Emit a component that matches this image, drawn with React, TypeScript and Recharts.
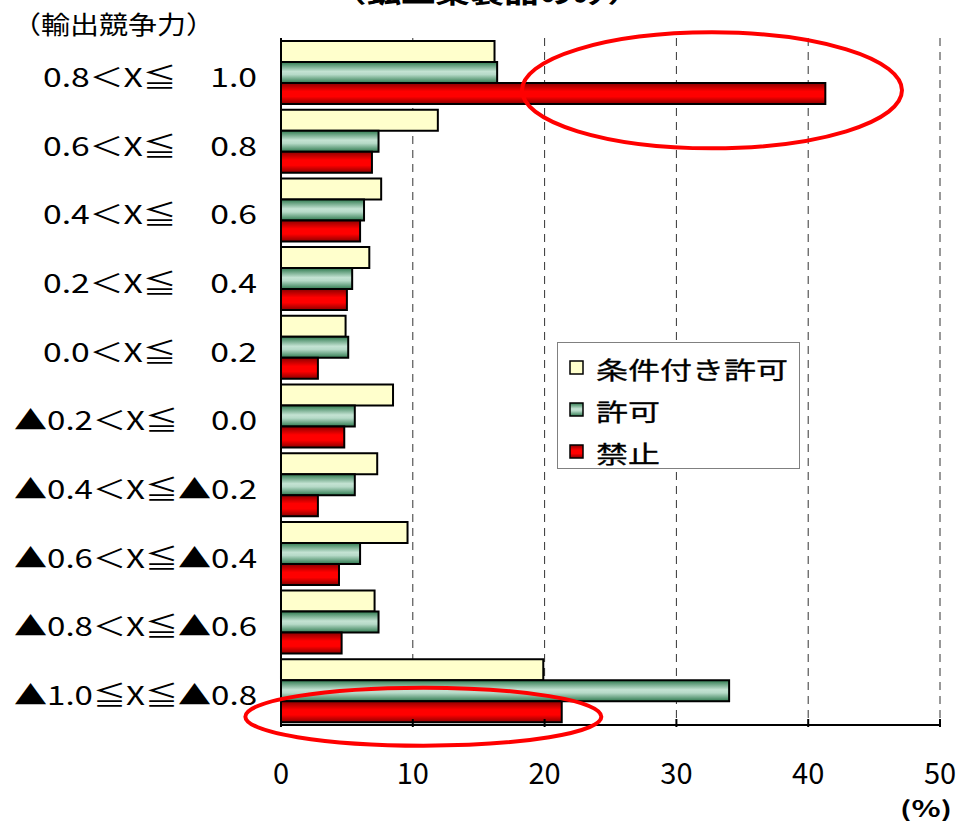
import { Bar, BarChart, CartesianGrid, Legend, ReferenceDot, XAxis, YAxis } from 'recharts';

const categories = [
  '0.8＜X≦　1.0',
  '0.6＜X≦　0.8',
  '0.4＜X≦　0.6',
  '0.2＜X≦　0.4',
  '0.0＜X≦　0.2',
  '▲0.2＜X≦　0.0',
  '▲0.4＜X≦▲0.2',
  '▲0.6＜X≦▲0.4',
  '▲0.8＜X≦▲0.6',
  '▲1.0≦X≦▲0.8',
];
const conditional = [16.2, 11.9, 7.6, 6.7, 4.9, 8.5, 7.3, 9.6, 7.1, 19.9];
const permitted = [16.4, 7.4, 6.3, 5.4, 5.1, 5.6, 5.6, 6.0, 7.4, 34.0];
const banned = [41.3, 6.9, 6.0, 5.0, 2.8, 4.8, 2.8, 4.4, 4.6, 21.3];
const seriesNames = ['条件付き許可', '許可', '禁止'];
const xTicks = [0, 10, 20, 30, 40, 50];

const data = categories.map((name, i) => ({
  name,
  conditional: conditional[i],
  permitted: permitted[i],
  banned: banned[i],
}));

const FONT = '"Noto Sans CJK JP", "Noto Sans", sans-serif';
const fills = ['#FFFFCC', 'url(#gGreen)', 'url(#gRed)'];

function YTick({ x, y, payload }: any) {
  const label: string = payload.value;
  return (
    <text
      x={x}
      y={y + 3}
      textAnchor="end"
      dominantBaseline="central"
      fontFamily={FONT}
      fontSize={26}
      fill="#000"
      textLength={label.startsWith('▲') ? 243 : 214}
      lengthAdjust="spacingAndGlyphs"
    >
      {label}
    </text>
  );
}

function XTick({ x, y, payload }: any) {
  return (
    <g>
      <line x1={x} y1={y} x2={x} y2={y - 8} stroke="#000" strokeWidth={2} />
      <text x={x} y={y + 44} textAnchor="middle" dominantBaseline="central" fontFamily={FONT} fontSize={29} fill="#000">
        {payload.value}
      </text>
    </g>
  );
}

function LegendBox() {
  return (
    <svg width={243} height={127} style={{ display: 'block', overflow: 'visible' }}>
      <rect x={0.5} y={0.5} width={242} height={126} fill="#fff" stroke="#808080" strokeWidth={1} />
      {seriesNames.map((s, i) => (
        <g key={s}>
          <rect x={13} y={19 + i * 42} width={13} height={13} fill={fills[i]} stroke="#000" strokeWidth={1.5} />
          <text
            x={39}
            y={26 + i * 42}
            dominantBaseline="central"
            fontFamily={FONT}
            fontSize={24}
            fill="#000"
            stroke="#000"
            strokeWidth={0.3}
            textLength={s.length * 32}
            lengthAdjust="spacingAndGlyphs"
          >
            {s}
          </text>
        </g>
      ))}
    </svg>
  );
}

function Ellipse({ cx, cy, dy, rx, ry }: any) {
  return <ellipse cx={cx} cy={cy + dy} rx={rx} ry={ry} fill="none" stroke="#ff0000" strokeWidth={4} />;
}

export default function App() {
  return (
    <div style={{ position: 'absolute', left: 0, top: 0, width: 974, height: 821, background: '#fff', overflow: 'hidden', fontFamily: FONT }}>
      <svg style={{ position: 'absolute', left: 0, top: 0 }} width={974} height={40}>
        <text
          x={487}
          y={3}
          textAnchor="middle"
          fontFamily={FONT}
          fontSize={28}
          fontWeight={700}
          textLength={310}
          lengthAdjust="spacingAndGlyphs"
        >
          （鉱工業製品のみ）
        </text>
        <text x={12} y={23} dominantBaseline="central" fontFamily={FONT} fontSize={25} textLength={203} lengthAdjust="spacingAndGlyphs">
          （輸出競争力）
        </text>
      </svg>
      <svg style={{ position: 'absolute', left: 0, top: 780 }} width={974} height={41}>
        <text
          x={926}
          y={27}
          textAnchor="middle"
          dominantBaseline="central"
          fontFamily={FONT}
          fontSize={22}
          fontWeight={700}
          textLength={52}
          lengthAdjust="spacingAndGlyphs"
        >
          (%)
        </text>
      </svg>
      <div style={{ position: 'absolute', left: 0, top: 0 }}>
        <BarChart
          width={974}
          height={821}
          data={data}
          layout="vertical"
          margin={{ top: 38, right: 34, left: 0, bottom: 36 }}
          barCategoryGap={3}
          barGap={0}
        >
          <defs>
            <linearGradient id="gGreen" x1="0" y1="0" x2="0" y2="1">
              <stop offset="0%" stopColor="#2f7a4f" />
              <stop offset="45%" stopColor="#c4e3d3" />
              <stop offset="60%" stopColor="#b6dac8" />
              <stop offset="100%" stopColor="#2f7a4f" />
            </linearGradient>
            <linearGradient id="gRed" x1="0" y1="0" x2="0" y2="1">
              <stop offset="0%" stopColor="#8a0000" />
              <stop offset="40%" stopColor="#ff0000" />
              <stop offset="65%" stopColor="#ff0000" />
              <stop offset="100%" stopColor="#8a0000" />
            </linearGradient>
          </defs>
          <CartesianGrid horizontal={false} stroke="#333" strokeDasharray="8 6" />
          <XAxis
            type="number"
            domain={[0, 50]}
            ticks={xTicks}
            height={60}
            axisLine={{ stroke: '#000', strokeWidth: 2 }}
            tickLine={false}
            tickSize={0}
            tick={<XTick />}
          />
          <YAxis
            type="category"
            dataKey="name"
            width={281}
            axisLine={{ stroke: '#000', strokeWidth: 2 }}
            tickLine={false}
            tickSize={0}
            tickMargin={24}
            tick={<YTick />}
            interval={0}
          />
          <Bar dataKey="conditional" name={seriesNames[0]} fill={fills[0]} stroke="#000" strokeWidth={2} isAnimationActive={false} />
          <Bar dataKey="permitted" name={seriesNames[1]} fill={fills[1]} stroke="#000" strokeWidth={2} isAnimationActive={false} />
          <Bar dataKey="banned" name={seriesNames[2]} fill={fills[2]} stroke="#000" strokeWidth={2} isAnimationActive={false} />
          <Legend
            layout="vertical"
            align="center"
            verticalAlign="middle"
            wrapperStyle={{ left: 557, top: 342, width: 243, height: 127, overflow: 'visible' }}
            content={() => <LegendBox />}
          />
          <ReferenceDot
            x={32.7}
            y={categories[0]}
            r={0}
            ifOverflow="visible"
            shape={(p: any) => <Ellipse {...p} dy={18} rx={190} ry={58} />}
          />
          <ReferenceDot
            x={10.8}
            y={categories[9]}
            r={0}
            ifOverflow="visible"
            shape={(p: any) => <Ellipse {...p} dy={26} rx={178} ry={29} />}
          />
        </BarChart>
      </div>
    </div>
  );
}
